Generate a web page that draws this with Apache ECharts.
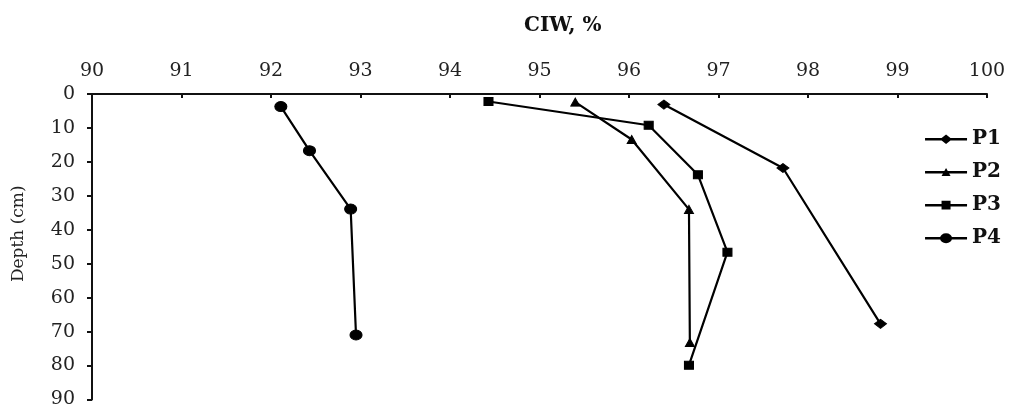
<!DOCTYPE html>
<html>
<head>
<meta charset="utf-8">
<script src="https://cdn.jsdelivr.net/npm/echarts@6/dist/echarts.min.js"></script>
<style>
html,body{margin:0;padding:0;background:#fff;}
#chart{width:1012px;height:409px;}
</style>
</head>
<body>
<div id="chart"></div>
<script>
const seriesNames = ['P1', 'P2', 'P3', 'P4'];
const p1CIW   = [96.39, 97.72, 98.81];
const p1Depth = [3.1, 21.8, 67.7];
const p2CIW   = [95.40, 96.03, 96.67, 96.68];
const p2Depth = [2.4, 13.4, 34.0, 73.2];
const p3CIW   = [94.43, 96.22, 96.77, 97.10, 96.67];
const p3Depth = [2.2, 9.2, 23.8, 46.6, 79.9];
const p4CIW   = [92.11, 92.43, 92.89, 92.95];
const p4Depth = [3.7, 16.7, 33.9, 71.0];
const xTicks = [90, 91, 92, 93, 94, 95, 96, 97, 98, 99, 100];
const yTicks = [0, 10, 20, 30, 40, 50, 60, 70, 80, 90];

const zip = (xs, ys) => xs.map((v, i) => [v, ys[i]]);
const allCIW = [p1CIW, p2CIW, p3CIW, p4CIW];
const allDepth = [p1Depth, p2Depth, p3Depth, p4Depth];
const symbols = ['diamond', 'triangle', 'rect', 'circle'];
const symbolSizes = [[12, 9], [9, 8], [9, 8], [12, 10]];

// legend icons: horizontal bar + marker, in a 42 x 12 box
const bar = 'M0,5 L42,5 L42,7.4 L0,7.4 Z ';
const legendIcons = [
  'path://' + bar + 'M21,1.5 L27,6.2 L21,10.9 L15,6.2 Z M0,0 L0.01,0 M0,12 L0.01,12',
  'path://' + bar + 'M21,2 L25.5,10 L16.5,10 Z M0,0 L0.01,0 M0,12 L0.01,12',
  'path://' + bar + 'M16.5,1.8 L25.5,1.8 L25.5,10.6 L16.5,10.6 Z M0,0 L0.01,0 M0,12 L0.01,12',
  'path://' + bar + 'M27,6.2 A6,5 0 1 1 15,6.2 A6,5 0 1 1 27,6.2 Z M0,0 L0.01,0 M0,12 L0.01,12'
];

const font = 'DejaVu Serif';
const chart = echarts.init(document.getElementById('chart'), null, {renderer: 'canvas'});
chart.setOption({
  backgroundColor: '#ffffff',
  animation: false,
  title: {
    text: 'CIW, %',
    left: 519, top: 11,
    textStyle: {fontFamily: font, fontWeight: 'bold', fontSize: 20, color: '#111'}
  },
  legend: {
    orient: 'vertical',
    right: 6, top: 124,
    itemWidth: 42, itemHeight: 12,
    itemGap: 13,
    data: seriesNames.map((n, i) => ({name: n, icon: legendIcons[i]})),
    itemStyle: {color: '#000', borderWidth: 0},
    textStyle: {fontFamily: font, fontWeight: 'bold', fontSize: 20, color: '#111'}
  },
  grid: {left: 92, right: 25, top: 94, bottom: 6, containLabel: false},
  xAxis: {
    type: 'value', position: 'top',
    min: xTicks[0], max: xTicks[xTicks.length - 1], interval: 1,
    axisLine: {show: true, onZero: false, lineStyle: {color: '#111', width: 2}},
    axisTick: {show: true, inside: true, length: 4, lineStyle: {color: '#111', width: 2}},
    axisLabel: {fontFamily: font, fontSize: 19, color: '#222', margin: 13},
    splitLine: {show: false}
  },
  yAxis: {
    type: 'value', inverse: true,
    min: yTicks[0], max: yTicks[yTicks.length - 1], interval: 10,
    name: 'Depth (cm)', nameLocation: 'middle', nameGap: 65, nameRotate: 90,
    nameTextStyle: {fontFamily: font, fontSize: 17, color: '#222', padding: [0, 0, 0, 26]},
    axisLine: {show: true, onZero: false, lineStyle: {color: '#111', width: 2}},
    axisTick: {show: true, inside: false, length: 5, lineStyle: {color: '#111', width: 2}},
    axisLabel: {fontFamily: font, fontSize: 19, color: '#222', margin: 17},
    splitLine: {show: false}
  },
  series: seriesNames.map((n, i) => ({
    name: n,
    type: 'line',
    data: zip(allCIW[i], allDepth[i]),
    symbol: symbols[i],
    symbolSize: symbolSizes[i],
    showAllSymbol: true,
    lineStyle: {color: '#000', width: 2.2},
    itemStyle: {color: '#000', borderColor: '#000'},
    emphasis: {disabled: true}
  }))
});
</script>
</body>
</html>
